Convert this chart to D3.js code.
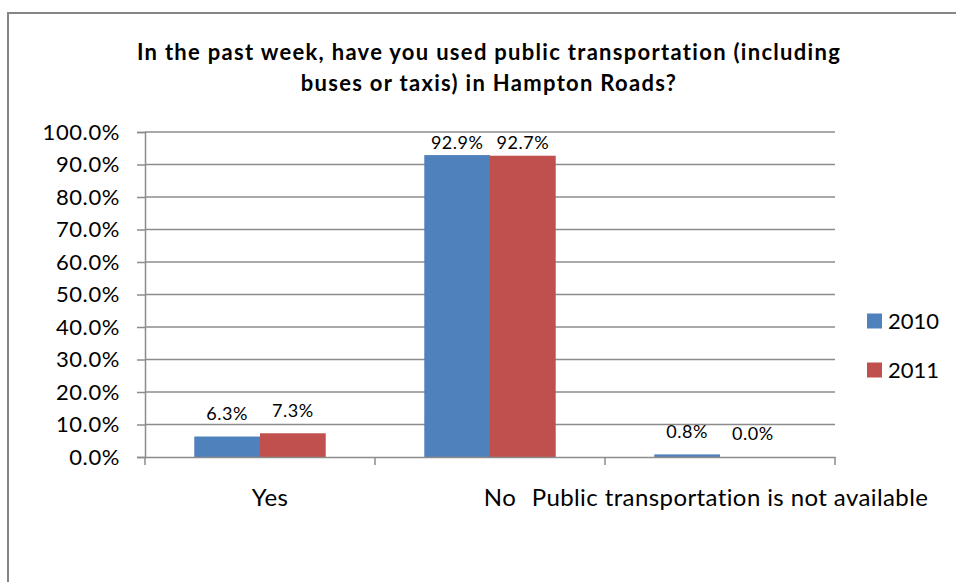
<!DOCTYPE html>
<html>
<head>
<meta charset="utf-8">
<script src="https://cdn.jsdelivr.net/npm/d3@7"></script>
<style>
  body { margin: 0; background: #fff; }
  text { font-family: Lato, "Open Sans", sans-serif; fill: #000; }
</style>
</head>
<body>
<script>
// chart data
const categories = ["Yes", "No", "Public transportation is not available"];
const years = ["2010", "2011"];
const values2010 = [6.3, 92.9, 0.8];
const values2011 = [7.3, 92.7, 0.0];
const yTicks = [0, 10, 20, 30, 40, 50, 60, 70, 80, 90, 100];
const colors = ["#4F81BD", "#C0504D"];
const titleLines = [
  "In the past week, have you used public transportation (including",
  "buses or taxis) in Hampton Roads?"
];

const width = 956, height = 582;
const plotLeft = 145, plotRight = 835, plotTop = 132, plotBottom = 457;
const axisGray = "#8c8c8c";

const svg = d3.select("body").append("svg")
  .attr("width", width)
  .attr("height", height);

// outer frame, only top and left edges fall inside the picture
svg.append("rect")
  .attr("x", 8).attr("y", 13)
  .attr("width", width + 20).attr("height", height + 20)
  .attr("fill", "none")
  .attr("stroke", "#868686")
  .attr("stroke-width", 2);

// title
svg.append("text")
  .attr("text-anchor", "middle")
  .attr("font-weight", "bold")
  .attr("font-size", 22)
  .attr("letter-spacing", "1.3px")
  .selectAll("tspan")
  .data(titleLines)
  .join("tspan")
    .attr("x", 489)
    .attr("y", (d, i) => 60 + i * 31)
    .text(d => d);

const x = d3.scaleBand()
  .domain(categories)
  .range([plotLeft, plotRight]);

const x1 = d3.scaleBand()
  .domain(years)
  .range([0, x.bandwidth()])
  .paddingInner(0)
  .paddingOuter(0.75);

const y = d3.scaleLinear()
  .domain([0, 100])
  .range([plotBottom, plotTop]);

// gridlines
svg.append("g")
  .selectAll("line")
  .data(yTicks.filter(d => d > 0))
  .join("line")
    .attr("x1", plotLeft).attr("x2", plotRight)
    .attr("y1", d => y(d)).attr("y2", d => y(d))
    .attr("stroke", axisGray)
    .attr("stroke-width", 1.5);

// y axis
const yAxis = svg.append("g")
  .attr("transform", `translate(${plotLeft},0)`)
  .call(d3.axisLeft(y).tickValues(yTicks).tickSize(8).tickPadding(17)
    .tickFormat(d => d.toFixed(1) + "%"));
yAxis.select(".domain").attr("stroke", axisGray).attr("stroke-width", 1.5);
yAxis.selectAll(".tick line").attr("stroke", axisGray).attr("stroke-width", 1.5);
yAxis.selectAll(".tick text")
  .attr("font-size", 22)
  .attr("letter-spacing", "0.6px")
  .attr("font-family", "Lato, sans-serif")
  .attr("fill", "#000");

// bars
const series = years.map((yr, i) => ({
  year: yr,
  color: colors[i],
  values: i === 0 ? values2010 : values2011
}));

const groups = svg.append("g")
  .selectAll("g")
  .data(series)
  .join("g")
    .attr("fill", d => d.color);

groups.selectAll("rect")
  .data(d => d.values.map((v, j) => ({ cat: categories[j], v, year: d.year })))
  .join("rect")
    .attr("x", d => x(d.cat) + x1(d.year))
    .attr("y", d => y(d.v))
    .attr("width", x1.bandwidth())
    .attr("height", d => plotBottom - y(d.v));

// data labels
groups.selectAll("text")
  .data(d => d.values.map((v, j) => ({ cat: categories[j], v, year: d.year })))
  .join("text")
    .attr("x", d => x(d.cat) + x1(d.year) + x1.bandwidth() / 2)
    .attr("y", d => Math.max(y(d.v) - 23, plotTop + 11))
    .attr("dy", "0.35em")
    .attr("text-anchor", "middle")
    .attr("font-size", 18)
    .attr("letter-spacing", "0.5px")
    .attr("fill", "#000")
    .text(d => d.v.toFixed(1) + "%");

// x axis
const xAxis = svg.append("g")
  .attr("transform", `translate(0,${plotBottom})`)
  .call(d3.axisBottom(x).tickSize(0).tickPadding(32));
xAxis.select(".domain").attr("stroke", axisGray).attr("stroke-width", 1.5);
xAxis.selectAll(".tick text")
  .attr("font-size", 24)
  .attr("letter-spacing", "0.4px")
  .attr("dx", 10)
  .attr("font-family", "Lato, sans-serif")
  .attr("fill", "#000");

// category boundary tick marks
svg.append("g")
  .selectAll("line")
  .data(categories.map(c => x(c)).concat([plotRight]))
  .join("line")
    .attr("x1", d => d).attr("x2", d => d)
    .attr("y1", plotBottom)
    .attr("y2", plotBottom + 8)
    .attr("stroke", axisGray)
    .attr("stroke-width", 1.5);

// legend
const legend = svg.append("g")
  .selectAll("g")
  .data(series)
  .join("g")
    .attr("transform", (d, i) => `translate(867,${321 + i * 49})`);
legend.append("rect")
  .attr("x", 0).attr("y", -7.5)
  .attr("width", 15).attr("height", 15)
  .attr("fill", d => d.color);
legend.append("text")
  .attr("x", 21).attr("y", 0)
  .attr("dy", "0.35em")
  .attr("font-size", 22)
  .text(d => d.year);
</script>
</body>
</html>
